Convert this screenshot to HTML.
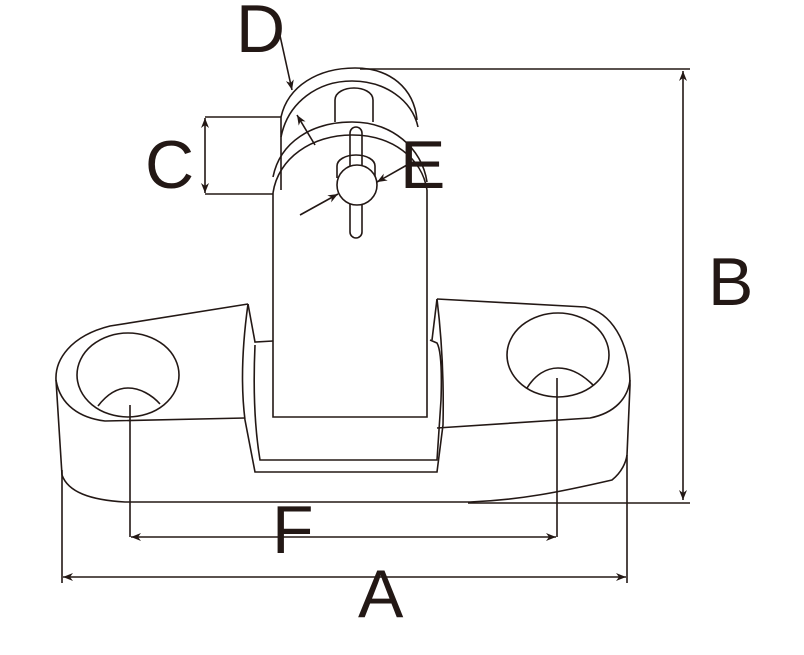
<!DOCTYPE html>
<html><head><meta charset="utf-8"><style>
html,body{margin:0;padding:0;background:#fff;width:804px;height:655px;overflow:hidden}
svg{display:block}
text{font-family:"Liberation Sans",sans-serif;font-size:68px;fill:#231815}
</style></head><body>
<svg width="804" height="655" viewBox="0 0 804 655" xmlns="http://www.w3.org/2000/svg">
<defs><marker id="ar" viewBox="0 0 10 10" refX="10" refY="5" markerWidth="10" markerHeight="10" markerUnits="userSpaceOnUse" orient="auto-start-reverse"><path d="M0,1 L10,5 L0,9 L3,5 Z" fill="#231815"/></marker></defs>
<g fill="none" stroke="#231815" stroke-width="1.6">
<path d="M248,304 L110,326 C70,336 55,360 56,380 L62,475 C68,492 90,500 125,502 L470,502 C520,500 560,492 612,480 C622,472 626,462 627,455 L630,385 C630,340 610,312 585,307 L437,299"/>
<path d="M56,380 C60,405 80,418 105,421 L245,418"/>
<path d="M437,428 L590,418 C615,413 628,398 630,380"/>
<ellipse cx="128" cy="375" rx="51" ry="42"/>
<path d="M98,406 C108,393 118,388 128,388 C140,388 152,395 160,404"/>
<ellipse cx="558" cy="355" rx="51" ry="42"/>
<path d="M527,388 C535,375 546,368 558,368 C572,368 584,376 593,385"/>
<path d="M248,304 C243,340 240,380 245,420 L255,472 L437,472 L443,425 C444,380 442,340 437,299"/>
<path d="M248,304 L255,342 L273,341"/>
<path d="M437,299 L432,340"/>
<path d="M255,345 C253,390 255,430 260,460 L437,460 L441,400 C442,370 441,350 437,343 L430,340"/>
<path d="M273,193 L273,417 L427,417 L427,190"/>
<path d="M273,193 C278,158 312,135 352,135 C392,135 422,158 427,190"/>
<path d="M273,177 C280,142 312,122 352,122 C392,122 422,148 427,182"/>
<path d="M281,137 C288,102 318,81 352,81 C385,81 412,100 418,127"/>
<path d="M281,117 C288,86 318,68 355,68 C390,68 414,88 417,120"/>
<line x1="281" y1="117" x2="281" y2="190"/>
<path d="M335,122 L335,100 C335,92 345,88 354,88 C363,88 373,92 373,100 L373,122"/>
<path d="M337,178 L337,166 C337,160 345,155 356,155 C367,155 375,160 375,166 L375,178"/>
<rect x="350" y="127" width="12" height="111" rx="6"/>
<circle cx="357" cy="185" r="20" fill="#fff"/>
<line x1="360" y1="69" x2="690" y2="69"/>
<line x1="468" y1="503" x2="690" y2="503"/>
<line x1="683" y1="71" x2="683" y2="500" marker-end="url(#ar)" marker-start="url(#ar)"/>
<line x1="205" y1="117" x2="281" y2="117"/>
<line x1="205" y1="194" x2="273" y2="194"/>
<line x1="205" y1="118" x2="205" y2="193" marker-end="url(#ar)" marker-start="url(#ar)"/>
<line x1="62" y1="470" x2="62" y2="583"/>
<line x1="627" y1="455" x2="627" y2="583"/>
<line x1="63" y1="577" x2="626" y2="577" marker-end="url(#ar)" marker-start="url(#ar)"/>
<line x1="130" y1="405" x2="130" y2="537"/>
<line x1="557" y1="378" x2="557" y2="537"/>
<line x1="131" y1="537" x2="556" y2="537" marker-end="url(#ar)" marker-start="url(#ar)"/>
<line x1="277" y1="22" x2="292" y2="90" marker-end="url(#ar)"/>
<line x1="315" y1="145" x2="297" y2="115" marker-end="url(#ar)"/>
<line x1="407" y1="165" x2="377" y2="182" marker-end="url(#ar)"/>
<line x1="300" y1="215" x2="338" y2="194" marker-end="url(#ar)"/>
</g>
<text x="236" y="52">D</text>
<text x="145" y="188">C</text>
<text x="400" y="188">E</text>
<text x="708" y="305">B</text>
<text x="272" y="553">F</text>
<text x="358" y="617">A</text>
</svg>
</body></html>
